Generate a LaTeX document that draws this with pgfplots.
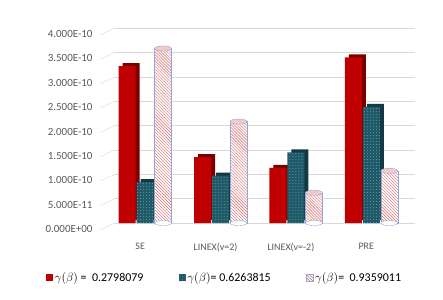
\documentclass[border=0pt]{standalone}
\usepackage{pgfplots}
\pgfplotsset{compat=1.18}
\usepackage{pgfplotstable}
\usetikzlibrary{patterns}
\usepackage{fontspec}
\setmainfont{Carlito}
\definecolor{myred}{HTML}{C00000}
\definecolor{myredd}{HTML}{7A0000}
\definecolor{myteal}{HTML}{1F5A69}
\definecolor{mytealdd}{HTML}{123A44}
\definecolor{mydots}{HTML}{6E9AA5}
\definecolor{stripe}{HTML}{E06666}
\definecolor{cylborder}{HTML}{8EA9DB}
\definecolor{ticktext}{HTML}{595959}
\definecolor{gridc}{HTML}{D9D9D9}

\pgfplotstableread{
x red teal cyl
0 3.22e-10 0.84e-10 3.58e-10
1 1.35e-10 0.97e-10 2.08e-10
2 1.13e-10 1.45e-10 0.62e-10
3 3.40e-10 2.38e-10 1.07e-10
}\data

\begin{document}
\begin{tikzpicture}
\foreach \i in {0,...,8} \draw[gridc] (0, \i*24.375bp) -- (-15bp, \i*24.375bp - 7bp);
\begin{axis}[
  at={(0,0)}, anchor=south west,
  width=300bp, height=195bp, scale only axis,
  xmin=-0.40, xmax=3.58, ymin=0, ymax=4e-10,
  scaled y ticks=false,
  axis line style={draw=none}, tick style={draw=none},
  ymajorgrids, major grid style={gridc},
  ytick={0,5e-11,1e-10,1.5e-10,2e-10,2.5e-10,3e-10,3.5e-10,4e-10},
  yticklabels={0.000E+00,5.000E-11,1.000E-10,1.500E-10,2.000E-10,2.500E-10,3.000E-10,3.500E-10,4.000E-10},
  yticklabel style={font=\fontsize{11}{13}\selectfont, text=ticktext, xshift=-19bp, yshift=-6bp},
  xtick={0,1,2,3},
  xticklabels={SE,LINEX(v=2),LINEX(v=-2),PRE},
  xticklabel style={font=\fontsize{10}{12}\selectfont, text=ticktext, yshift=-17bp, xshift=-5bp},
  legend columns=3,
  legend style={draw=none, at={(0.365,-0.282)}, anchor=center, font=\fontsize{12}{14}\selectfont,
    /tikz/every even column/.append style={column sep=33bp}},
  legend image code/.code={\path[#1] (0bp,-3.5bp) rectangle (7bp,3.5bp);},
]
\addplot[ybar, bar width=17bp, bar shift=-14bp, fill=myredd, draw=none, yshift=3bp, forget plot] table[x=x,y=red]{\data};
\addplot[ybar, bar width=17bp, bar shift=-18bp, fill=myred, draw=none] table[x=x,y=red]{\data};
\addplot[ybar, bar width=17bp, bar shift=4bp, fill=mytealdd, draw=none, yshift=3bp, forget plot] table[x=x,y=teal]{\data};
\addplot[ybar, bar width=17bp, bar shift=0bp, fill=myteal, draw=none, postaction={pattern=dots, pattern color=mydots}] table[x=x,y=teal]{\data};
\addplot[only marks, mark=*, mark size=8.5bp, mark options={xshift=18bp, yscale=0.3, fill=white, draw=cylborder}, forget plot] coordinates {(0,0) (1,0) (2,0) (3,0)};
\addplot[ybar, bar width=17bp, bar shift=18bp, fill=white, draw=cylborder, postaction={pattern=north west lines, pattern color=stripe}] table[x=x,y=cyl]{\data};
\addplot[only marks, mark=*, mark size=8.5bp, mark options={xshift=18bp, yscale=0.3, fill=stripe!35, draw=cylborder}, forget plot] table[x=x,y=cyl]{\data};
\legend{{$\gamma(\beta)$ =\ \ 0.2798079},{$\gamma(\beta)$= 0.6263815},{$\gamma(\beta)$=\ \ 0.9359011}}
\end{axis}
\pgfresetboundingbox
\useasboundingbox (-115bp,-77bp) rectangle (328bp,223bp);
\end{tikzpicture}
\end{document}
